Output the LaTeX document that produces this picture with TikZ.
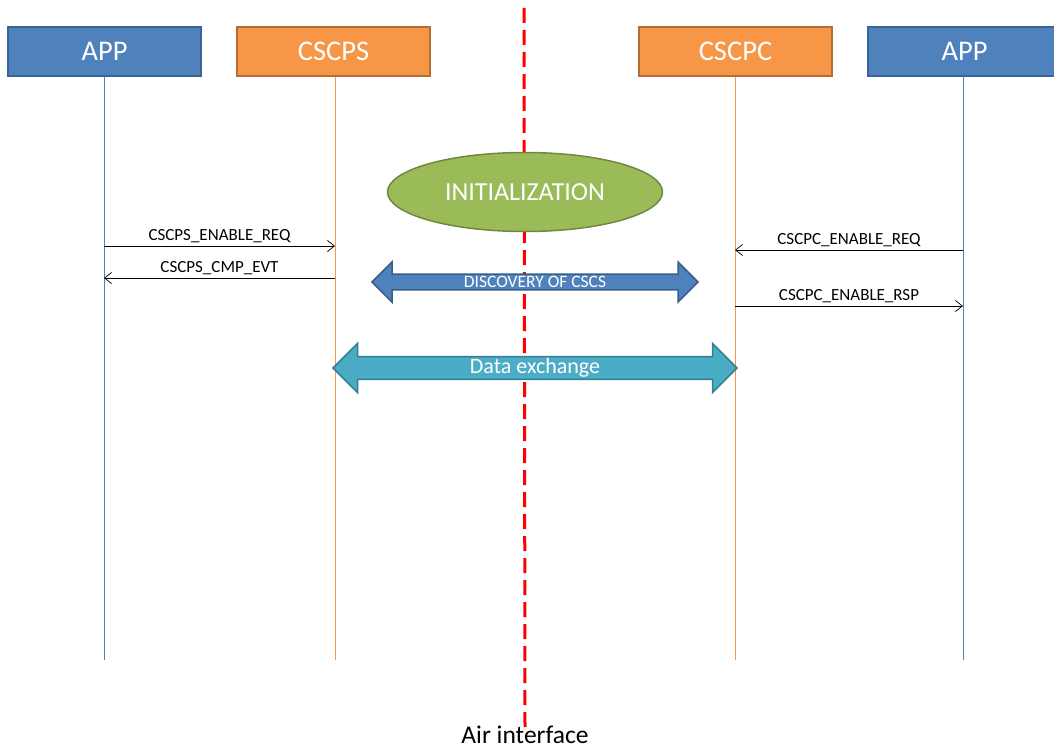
\documentclass[tikz,border=0pt]{standalone}
\usepackage{fontspec}
\setmainfont{Carlito}
\usetikzlibrary{arrows.meta,shapes.geometric,shapes.arrows}

\definecolor{appfill}{HTML}{4F81BD}
\definecolor{appdraw}{HTML}{3A6496}
\definecolor{csfill}{HTML}{F79646}
\definecolor{csdraw}{HTML}{B66D31}
\definecolor{initfill}{HTML}{9BBB59}
\definecolor{initdraw}{HTML}{71893F}
\definecolor{discdraw}{HTML}{385D8A}
\definecolor{datafill}{HTML}{4BACC6}
\definecolor{datadraw}{HTML}{357D91}

\begin{document}
\begin{tikzpicture}[x=1pt, y=-1pt, >={Straight Barb[length=7pt,width=11pt]},
	entity/.style={draw, line width=1.5pt, minimum width=193pt, minimum height=49pt, text=white, font=\fontsize{28.5}{32}\selectfont},
	app/.style={entity, fill=appfill, draw=appdraw},
	cs/.style={entity, fill=csfill, draw=csdraw},
	msg/.style={->, line width=0.7pt},
	lbl/.style={font=\fontsize{17}{19}\selectfont, inner sep=3pt},
	bigarrow/.style={double arrow, double arrow head extend=#1, inner sep=0pt, line width=1.5pt, text=white}]
	\useasboundingbox (0,0) rectangle (1054,749);
	% air interface
	\node[font=\fontsize{25.5}{28}\selectfont] (air) at (525,735) {Air interface};
	\coordinate (airtop) at (524,8);
	\draw[red, line width=3pt, dash pattern=on 15pt off 7pt] (airtop) -- ([yshift=-6pt]air.north);
	% entities
	\node[app] (appL)  at (104.5,51.5) {APP};
	\node[cs]  (cscps) at (333.5,51.5) {CSCPS};
	\node[cs]  (cscpc) at (735.5,51.5) {CSCPC};
	\node[app] (appR)  at (964.5,51.5) {APP};
	% lifelines
	\coordinate (appLend)  at (104,660);
	\coordinate (cscpsend) at (335,660);
	\coordinate (cscpcend) at (735,660);
	\coordinate (appRend)  at (963,660);
	\draw[appfill, line width=0.7pt] (appL.south -| appLend) -- (appLend);
	\draw[csfill, line width=0.7pt] (cscps.south -| cscpsend) -- (cscpsend);
	\draw[csfill, line width=0.7pt] (cscpc.south -| cscpcend) -- (cscpcend);
	\draw[appfill, line width=0.7pt] (appR.south -| appRend) -- (appRend);
	% phases
	\node[ellipse, minimum width=275pt, minimum height=79pt, fill=initfill, draw=initdraw, line width=1.5pt, text=white, font=\fontsize{26}{30}\selectfont] (init) at (525,192) {INITIALIZATION};
	\node[bigarrow=10pt, minimum width=40pt, minimum height=326pt, fill=appfill, draw=discdraw, font=\fontsize{17.5}{19}\selectfont] (disc) at (535,282) {DISCOVERY OF CSCS};
	\node[bigarrow=12pt, minimum width=49pt, minimum height=404pt, fill=datafill, draw=datadraw, font=\fontsize{22}{25}\selectfont] (data) at (535,368) {Data exchange};
	% messages
	\coordinate (m1a) at (104,246);
	\coordinate (m1b) at (335,246);
	\coordinate (m2a) at (335,278);
	\coordinate (m2b) at (104,278);
	\coordinate (m3a) at (963,250);
	\coordinate (m3b) at (735,250);
	\coordinate (m4a) at (735,306);
	\coordinate (m4b) at (963,306);
	\draw[msg] (m1a) -- node[lbl, above] {CSCPS\_ENABLE\_REQ} (m1b);
	\draw[msg] (m2a) -- node[lbl, above] {CSCPS\_CMP\_EVT} (m2b);
	\draw[msg] (m3a) -- node[lbl, above] {CSCPC\_ENABLE\_REQ} (m3b);
	\draw[msg] (m4a) -- node[lbl, above] {CSCPC\_ENABLE\_RSP} (m4b);
\end{tikzpicture}
\end{document}
